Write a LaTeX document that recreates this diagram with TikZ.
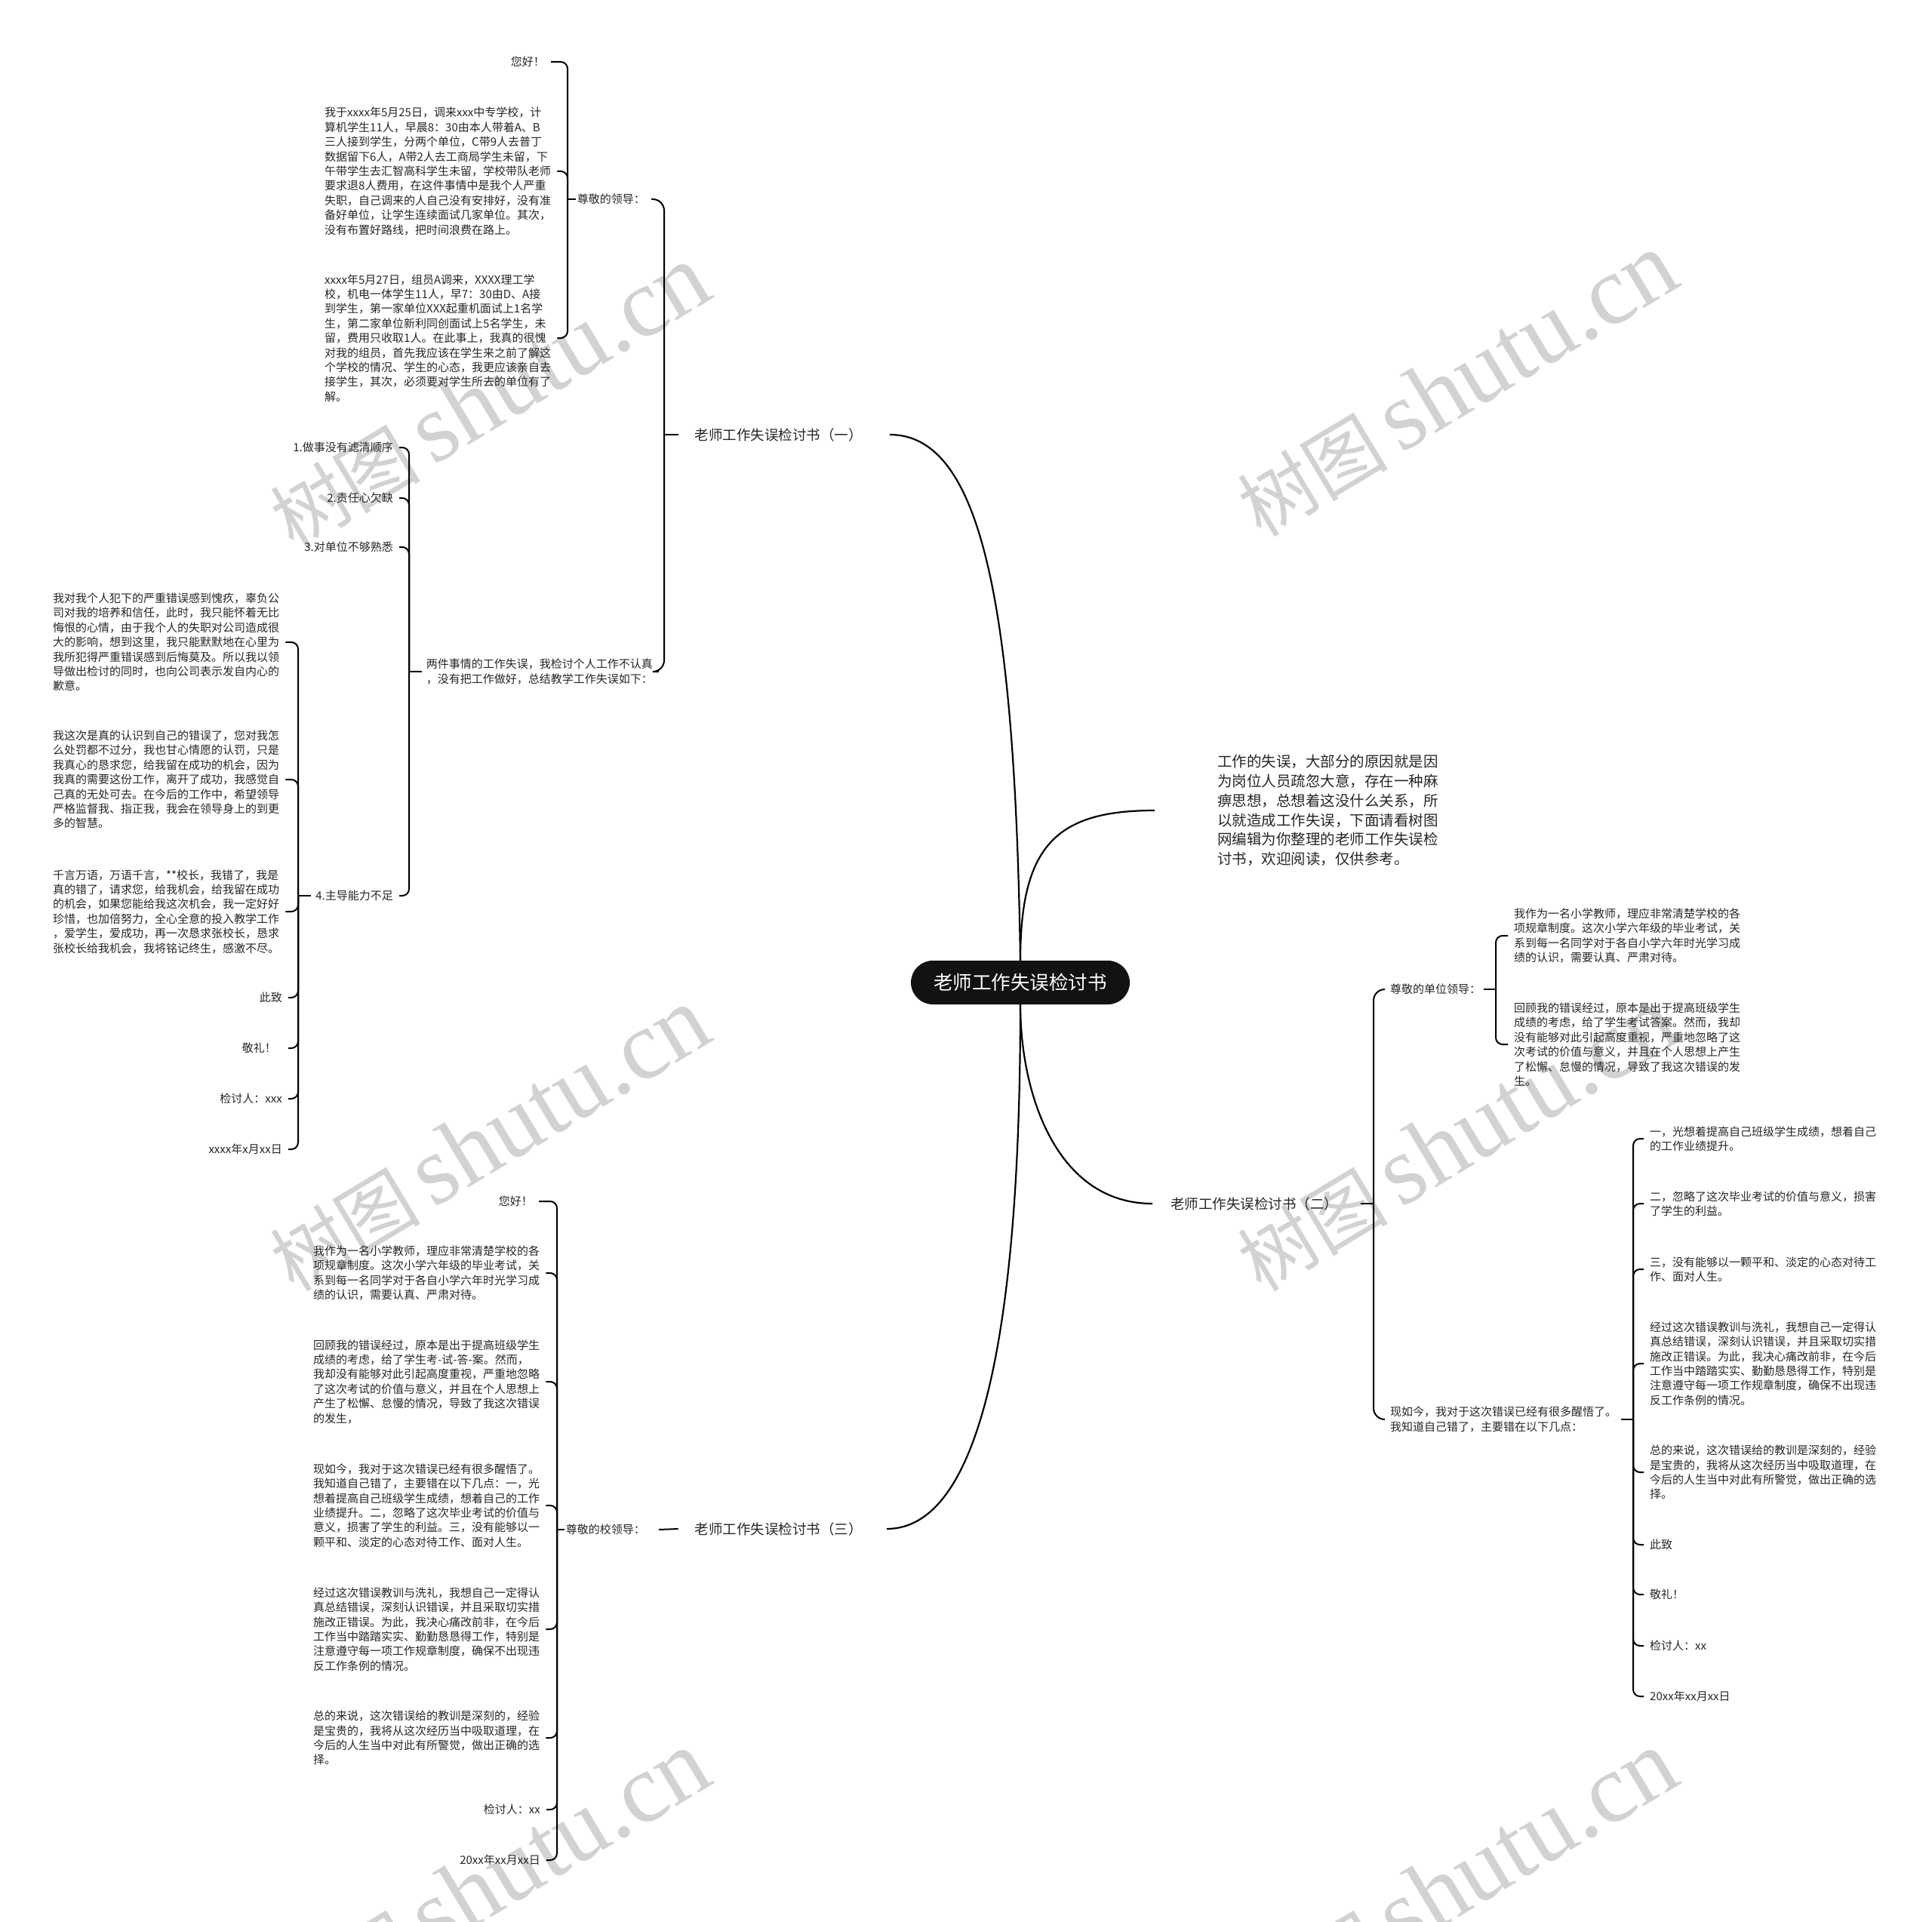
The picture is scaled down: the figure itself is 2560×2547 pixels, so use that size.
\documentclass[tikz,border=0pt]{standalone}
\usepackage{fontspec}
\setmainfont{Noto Sans CJK SC}
\newfontfamily\wmserif{Liberation Serif}
\definecolor{txt}{HTML}{262626}
\definecolor{wmgray}{HTML}{D2D2D2}
\begin{document}
\begin{tikzpicture}[x=1pt,y=-1pt,
  leaf/.style={inner sep=0pt, align=left, text=txt, font=\fontsize{15pt}{19.4pt}\selectfont},
  lbl/.style={inner sep=0pt, text=txt, font=\fontsize{18.5pt}{22pt}\selectfont},
  introtext/.style={inner sep=0pt, align=left, text=txt, font=\fontsize{19.5pt}{25.8pt}\selectfont},
  rootbox/.style={fill=black!93, rounded corners=29pt, minimum width=290pt, minimum height=58pt, inner sep=0pt, text=white, font=\fontsize{25.5pt}{30pt}\selectfont},
  maincurve/.style={line width=2.2pt, draw=black},
  br/.style={line width=2pt, draw=black, rounded corners=9pt},
  bigbr/.style={line width=2pt, draw=black, rounded corners=15pt},
  wm/.style={text=wmgray, rotate=31, inner sep=0pt}]
\clip (0,0) rectangle (2560,2547);
\fill[white] (0,0) rectangle (2560,2547);

% watermarks
\foreach \px/\py [count=\i] in {648/526,1930/510,648/1510,1930/1510,648/2495,1930/2495}
  \node[wm] (wm\i) at (\px,\py) {\fontsize{100pt}{100pt}\selectfont 树图\,{\wmserif\fontsize{130pt}{130pt}\selectfont shutu.cn}};

% root
\node[rootbox] (root) at (1352,1302) {老师工作失误检讨书};

% first-level nodes
\node[lbl, anchor=east] (L1) at (1143,576) {老师工作失误检讨书（一）};
\node[lbl, anchor=west] (L2) at (1551,1595) {老师工作失误检讨书（二）};
\node[lbl, anchor=east] (L3) at (1143,2026) {老师工作失误检讨书（三）};
\node[introtext, anchor=west] (intro) at (1613,1074) {工作的失误，大部分的原因就是因\\为岗位人员疏忽大意，存在一种麻\\痹思想，总想着这没什么关系，所\\以就造成工作失误，下面请看树图\\网编辑为你整理的老师工作失误检\\讨书，欢迎阅读，仅供参考。};

\draw[maincurve] (root.north) .. controls (1345,800) and (1300,576) .. ([xshift=36pt]L1.east);
\draw[maincurve] (root.north) .. controls (1352,1120) and (1400,1074) .. ([xshift=-83pt]intro.west);
\draw[maincurve] (root.south) .. controls (1352,1450) and (1400,1595) .. ([xshift=-24pt]L2.west);
\draw[maincurve] (root.south) .. controls (1352,1800) and (1290,2026) .. ([xshift=32pt]L3.east);

% ===== Branch one =====
\node[leaf, anchor=east] (A) at (855,264) {尊敬的领导：};
\node[leaf, anchor=east] (B) at (865,890) {两件事情的工作失误，我检讨个人工作不认真\\，没有把工作做好，总结教学工作失误如下：};
\coordinate (j1) at (880,576);
\draw[br] ([xshift=-22pt]L1.west) -- (j1);
\draw[bigbr] (j1) |- ([xshift=8pt]A.east);
\draw[bigbr] (j1) |- ([xshift=8pt]B.east);

\node[leaf, anchor=east] (A0) at (722,82) {您好！};
\node[leaf, anchor=west] (A1) at (430,227) {我于xxxx年5月25日，调来xxx中专学校，计\\算机学生11人，早晨8：30由本人带着A、B\\三人接到学生，分两个单位，C带9人去普丁\\数据留下6人，A带2人去工商局学生未留，下\\午带学生去汇智高科学生未留，学校带队老师\\要求退8人费用，在这件事情中是我个人严重\\失职，自己调来的人自己没有安排好，没有准\\备好单位，让学生连续面试几家单位。其次，\\没有布置好路线，把时间浪费在路上。};
\node[leaf, anchor=west] (A2) at (430,448) {xxxx年5月27日，组员A调来，XXXX理工学\\校，机电一体学生11人，早7：30由D、A接\\到学生，第一家单位XXX起重机面试上1名学\\生，第二家单位新利同创面试上5名学生，未\\留，费用只收取1人。在此事上，我真的很愧\\对我的组员，首先我应该在学生来之前了解这\\个学校的情况、学生的心态，我更应该亲自去\\接学生，其次，必须要对学生所去的单位有了\\解。};
\coordinate (jA) at (752,264);
\draw[br] ([xshift=-2pt]A.west) -- (jA);
\foreach \c in {A0,A1,A2} \draw[br] (jA) |- ([xshift=8pt]\c.east);

\node[leaf, anchor=east] (C1) at (521,593) {1.做事没有滤清顺序};
\node[leaf, anchor=east] (C2) at (521,660) {2.责任心欠缺};
\node[leaf, anchor=east] (C3) at (521,725) {3.对单位不够熟悉};
\node[leaf, anchor=east] (C4) at (521,1187) {4.主导能力不足};
\coordinate (jB) at (542,890);
\draw[br] ([xshift=-6pt]B.west) -- (jB);
\foreach \c in {C1,C2,C3,C4} \draw[br] (jB) |- ([xshift=8pt]\c.east);

\node[leaf, anchor=west] (D1) at (70,851) {我对我个人犯下的严重错误感到愧疚，辜负公\\司对我的培养和信任，此时，我只能怀着无比\\悔恨的心情，由于我个人的失职对公司造成很\\大的影响，想到这里，我只能默默地在心里为\\我所犯得严重错误感到后悔莫及。所以我以领\\导做出检讨的同时，也向公司表示发自内心的\\歉意。};
\node[leaf, anchor=west] (D2) at (70,1033) {我这次是真的认识到自己的错误了，您对我怎\\么处罚都不过分，我也甘心情愿的认罚，只是\\我真心的恳求您，给我留在成功的机会，因为\\我真的需要这份工作，离开了成功，我感觉自\\己真的无处可去。在今后的工作中，希望领导\\严格监督我、指正我，我会在领导身上的到更\\多的智慧。};
\node[leaf, anchor=west] (D3) at (70,1208) {千言万语，万语千言，**校长，我错了，我是\\真的错了，请求您，给我机会，给我留在成功\\的机会，如果您能给我这次机会，我一定好好\\珍惜，也加倍努力，全心全意的投入教学工作\\，爱学生，爱成功，再一次恳求张校长，恳求\\张校长给我机会，我将铭记终生，感激不尽。};
\node[leaf, anchor=east] (D4) at (374,1322) {此致};
\node[leaf, anchor=east] (D5) at (366,1389) {敬礼！};
\node[leaf, anchor=east] (D6) at (374,1456) {检讨人：xxx};
\node[leaf, anchor=east] (D7) at (374,1523) {xxxx年x月xx日};
\coordinate (jC) at (395,1187);
\draw[br] ([xshift=-6pt]C4.west) -- (jC);
\foreach \c in {D1,D2,D3,D4,D6,D7} \draw[br] (jC) |- ([xshift=8pt]\c.east);
\draw[br] (jC) |- ([xshift=16pt]D5.east);

% ===== Branch three =====
\node[leaf, anchor=east] (S3) at (855,2027) {尊敬的校领导：};
\draw[br] ([xshift=-22pt]L3.west) -- ([xshift=18pt]S3.east);
\node[leaf, anchor=east] (E0) at (706,1592) {您好！};
\node[leaf, anchor=west] (E1) at (415,1687) {我作为一名小学教师，理应非常清楚学校的各\\项规章制度。这次小学六年级的毕业考试，关\\系到每一名同学对于各自小学六年时光学习成\\绩的认识，需要认真、严肃对待。};
\node[leaf, anchor=west] (E2) at (415,1831) {回顾我的错误经过，原本是出于提高班级学生\\成绩的考虑，给了学生考-试-答-案。然而，\\我却没有能够对此引起高度重视，严重地忽略\\了这次考试的价值与意义，并且在个人思想上\\产生了松懈、怠慢的情况，导致了我这次错误\\的发生，};
\node[leaf, anchor=west] (E3) at (415,1995) {现如今，我对于这次错误已经有很多醒悟了。\\我知道自己错了，主要错在以下几点：一，光\\想着提高自己班级学生成绩，想着自己的工作\\业绩提升。二，忽略了这次毕业考试的价值与\\意义，损害了学生的利益。三，没有能够以一\\颗平和、淡定的心态对待工作、面对人生。};
\node[leaf, anchor=west] (E4) at (415,2159) {经过这次错误教训与洗礼，我想自己一定得认\\真总结错误，深刻认识错误，并且采取切实措\\施改正错误。为此，我决心痛改前非，在今后\\工作当中踏踏实实、勤勤恳恳得工作，特别是\\注意遵守每一项工作规章制度，确保不出现违\\反工作条例的情况。};
\node[leaf, anchor=west] (E5) at (415,2303) {总的来说，这次错误给的教训是深刻的，经验\\是宝贵的，我将从这次经历当中吸取道理，在\\今后的人生当中对此有所警觉，做出正确的选\\择。};
\node[leaf, anchor=east] (E6) at (716,2398) {检讨人：xx};
\node[leaf, anchor=east] (E7) at (716,2465) {20xx年xx月xx日};
\coordinate (jS3) at (738,2027);
\draw[br] ([xshift=-2pt]S3.west) -- (jS3);
\foreach \c in {E0,E1,E2,E3,E4,E5,E6,E7} \draw[br] (jS3) |- ([xshift=8pt]\c.east);

% ===== Branch two =====
\coordinate (j2) at (1820,1595);
\draw[br] ([xshift=30pt]L2.east) -- (j2);
\node[leaf, anchor=west] (S2a) at (1842,1311) {尊敬的单位领导：};
\node[leaf, anchor=west] (S2b) at (1842,1881) {现如今，我对于这次错误已经有很多醒悟了。\\我知道自己错了，主要错在以下几点：};
\draw[bigbr] (j2) |- ([xshift=-8pt]S2a.west);
\draw[bigbr] (j2) |- ([xshift=-8pt]S2b.west);

\node[leaf, anchor=west] (F1) at (2006,1240) {我作为一名小学教师，理应非常清楚学校的各\\项规章制度。这次小学六年级的毕业考试，关\\系到每一名同学对于各自小学六年时光学习成\\绩的认识，需要认真、严肃对待。};
\node[leaf, anchor=west] (F2) at (2006,1384) {回顾我的错误经过，原本是出于提高班级学生\\成绩的考虑，给了学生考试答案。然而，我却\\没有能够对此引起高度重视，严重地忽略了这\\次考试的价值与意义，并且在个人思想上产生\\了松懈、怠慢的情况，导致了我这次错误的发\\生。};
\coordinate (jS2a) at (1982,1311);
\draw[br] ([xshift=4pt]S2a.east) -- (jS2a);
\foreach \c in {F1,F2} \draw[br] (jS2a) |- ([xshift=-8pt]\c.west);

\node[leaf, anchor=west] (G1) at (2186,1509) {一，光想着提高自己班级学生成绩，想着自己\\的工作业绩提升。};
\node[leaf, anchor=west] (G2) at (2186,1595) {二，忽略了这次毕业考试的价值与意义，损害\\了学生的利益。};
\node[leaf, anchor=west] (G3) at (2186,1682) {三，没有能够以一颗平和、淡定的心态对待工\\作、面对人生。};
\node[leaf, anchor=west] (G4) at (2186,1807) {经过这次错误教训与洗礼，我想自己一定得认\\真总结错误，深刻认识错误，并且采取切实措\\施改正错误。为此，我决心痛改前非，在今后\\工作当中踏踏实实、勤勤恳恳得工作，特别是\\注意遵守每一项工作规章制度，确保不出现违\\反工作条例的情况。};
\node[leaf, anchor=west] (G5) at (2186,1951) {总的来说，这次错误给的教训是深刻的，经验\\是宝贵的，我将从这次经历当中吸取道理，在\\今后的人生当中对此有所警觉，做出正确的选\\择。};
\node[leaf, anchor=west] (G6) at (2186,2047) {此致};
\node[leaf, anchor=west] (G7) at (2186,2113) {敬礼！};
\node[leaf, anchor=west] (G8) at (2186,2181) {检讨人：xx};
\node[leaf, anchor=west] (G9) at (2186,2248) {20xx年xx月xx日};
\coordinate (jS2b) at (2164,1881);
\draw[br] ([xshift=6pt]S2b.east) -- (jS2b);
\foreach \c in {G1,G2,G3,G4,G5,G6,G7,G8,G9} \draw[br] (jS2b) |- ([xshift=-8pt]\c.west);
\end{tikzpicture}
\end{document}
